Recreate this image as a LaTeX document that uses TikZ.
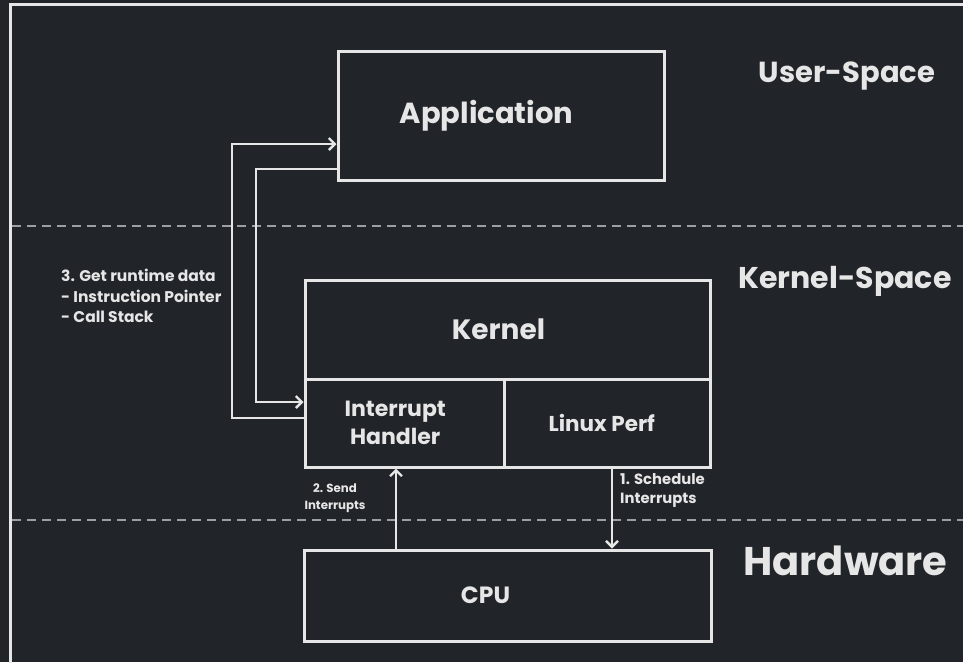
\documentclass[tikz,border=0pt]{standalone}
\usepackage{fontspec}
\setmainfont{Poppins}
\usetikzlibrary{arrows.meta}

\definecolor{bg}{HTML}{212428}
\definecolor{ink}{HTML}{E6E6E6}
\definecolor{dash}{HTML}{9C9FA3}

\tikzset{
  box/.style={draw=ink, line width=3pt, text=ink, inner sep=0pt, font=\bfseries},
  wire/.style={draw=ink, line width=2.6pt, -{Straight Barb[length=6pt,width=12pt,line width=2.4pt]}},
  zone/.style={draw=dash, line width=2.3pt, dash pattern=on 9pt off 6pt},
  note/.style={text=ink, inner sep=0pt, font=\bfseries},
  layer/.style={text=ink, inner sep=0pt, font=\bfseries},
}

\begin{document}
\begin{tikzpicture}[x=1pt, y=-1pt]
  % canvas
  \useasboundingbox (0,0) rectangle (963,662);
  \clip (0,0) rectangle (963,662);
  \fill[bg] (0,0) rectangle (963,662);

  % outer frame (runs off the right and bottom edges)
  \draw[ink, line width=3pt] (10,700) -- (10,4) -- (1000,4);

  % layer separators
  \draw[zone] (12,226) -- (963,226);
  \draw[zone] (12,520) -- (963,520);

  % layer titles
  \node[layer, font=\fontsize{29}{34}\selectfont\bfseries] (user) at (847,76) {User-Space};
  \node[layer, font=\fontsize{30}{36}\selectfont\bfseries] (kspace) at (845,281) {Kernel-Space};
  \node[layer, font=\fontsize{40}{46}\selectfont\bfseries] (hw) at (845.5,561) {Hardware};

  % boxes (labels sit a little left of centre)
  \node[box, minimum width=326pt, minimum height=129pt, font=\fontsize{29}{34}\selectfont\bfseries]
    (app) at (501,115.5) {Application\kern29pt};
  \node[box, minimum width=405pt, minimum height=99pt, font=\fontsize{28}{32}\selectfont\bfseries]
    (kernel) at (507.5,329.5) {Kernel\kern18pt};
  \node[box, minimum width=199.5pt, minimum height=88pt, align=center,
        font=\fontsize{22}{28}\selectfont\bfseries]
    (ih) at (404.75,423) {Interrupt\kern19pt\\Handler\kern19pt};
  \node[box, minimum width=205.5pt, minimum height=88pt, font=\fontsize{21.5}{24}\selectfont\bfseries]
    (lp) at (607.25,423) {Linux Perf\kern11pt};
  \node[box, minimum width=407pt, minimum height=91pt, font=\fontsize{23.5}{30}\selectfont\bfseries]
    (cpu) at (507.5,595.5) {CPU\kern44pt};

  % runtime data path: handler -> application, application -> handler
  \draw[wire] (ih.west |- 0,418) -- (232,418) -- (232,144) -- (app.west |- 0,144);
  \draw[wire] (app.west |- 0,169) -- (256,169) -- (256,402) -- (ih.west |- 0,402);

  % interrupts between CPU and kernel
  \draw[wire] (cpu.north -| 396,0) -- (ih.south -| 396,0);
  \draw[wire] (lp.south -| 612,0) -- (cpu.north -| 612,0);

  % step labels
  \node[note, anchor=north west, align=left, font=\fontsize{15.5}{20.5}\selectfont\bfseries]
    (step3) at (61,269) {3. Get runtime data\\- Instruction Pointer\\- Call Stack};
  \node[note, align=center, font=\fontsize{11.8}{16.5}\selectfont\bfseries]
    (step2) at (335,498) {2. Send\\Interrupts};
  \node[note, anchor=north west, align=left, font=\fontsize{14.8}{19}\selectfont\bfseries]
    (step1) at (620,473) {1. Schedule\\Interrupts};
\end{tikzpicture}
\end{document}
